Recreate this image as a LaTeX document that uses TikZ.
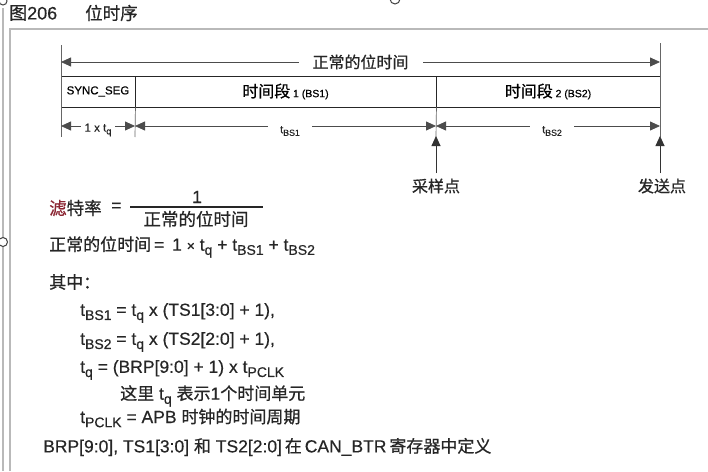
\documentclass[tikz,border=0pt]{standalone}
\usepackage{fontspec}
\setmainfont{Liberation Sans}[FakeBold=0.4]
\newfontfamily\cjk{Noto Sans CJK SC}[FakeBold=0.7]
\usetikzlibrary{arrows.meta}
\newcommand\lo[1]{\raisebox{-0.45ex}{\scalebox{0.8}{#1}}}
\newcommand\fs[1]{\fontsize{#1}{#1}\selectfont}
\begin{document}
\begin{tikzpicture}[x=1pt,y=-1pt,
  frame/.style={draw=gray!55, line width=1.3pt},
  seg/.style={draw=black!85, line width=0.9pt, minimum height=31pt, inner sep=0pt},
  ext/.style={draw=black!60, line width=0.7pt},
  dim/.style={draw=black!70, line width=0.8pt, {Triangle[length=10pt,width=9pt]}-{Triangle[length=10pt,width=9pt]}},
  uparr/.style={draw=black!80, line width=0.9pt, -{Triangle[length=10pt,width=9pt]}},
  lbl/.style={fill=white, inner ysep=1pt, text=black!85},
  txt/.style={anchor=west, inner sep=0pt, text=black!85, font=\fs{17.5}},
  handle/.style={draw=black!75, fill=white, line width=1pt}
]
\useasboundingbox (0,0) rectangle (708,471);
\fill[white] (0,0) rectangle (708,471);
% frame
\coordinate (fo1) at (3,8);
\coordinate (fo2) at (3,471);
\coordinate (fi1) at (10,29);
\coordinate (fi2) at (10,471);
\coordinate (ft) at (708,29);
\draw[frame] (fo1) -- (fo2);
\draw[frame] (fi2) -- (fi1) -- (ft);
\draw[handle] (3,1) circle (4);
\draw[handle] (395,-1) circle (5);
\draw[handle] (3,242) circle (4.5);
% title
\node[anchor=west, inner sep=0pt, text=black!85] (fig) at (9,13) {\fs{18}{\cjk 图}206};
\node[anchor=west, inner sep=0pt, text=black!85] (ttl) at (85,13) {\fs{17.5}\cjk 位时序};
% bit segments
\node[seg, minimum width=74pt] (sync) at (98,91.5) {\fs{11.5}SYNC\_SEG};
\node[seg, minimum width=301pt] (bs1) at (285.5,91.5) {{\cjk\fs{16}时间段} {\fs{10.5}1 (BS1)}\hspace{20pt}};
\node[seg, minimum width=224pt] (bs2) at (548,91.5) {{\cjk\fs{16}时间段} {\fs{10.5}2 (BS2)}\hspace{20pt}};
% extension lines
\coordinate (l0) at (61,45);
\coordinate (l1) at (61,137);
\coordinate (s1) at (135,137);
\coordinate (p1) at (436,137);
\coordinate (r0) at (660,43);
\coordinate (r1) at (660,137);
\draw[ext] (l0) -- (l1);
\draw[ext] (sync.south east) -- (s1);
\draw[ext] (bs1.south east) -- (p1);
\draw[ext] (r0) -- (r1);
% dimension arrows
\coordinate (t0) at (61,62);
\coordinate (t1) at (660,62);
\draw[dim] (t0) -- (t1) node[midway, lbl, inner xsep=14pt] (nbt) {\cjk\fs{16}正常的位时间};
\coordinate (b0) at (61,126);
\coordinate (b1) at (135,126);
\coordinate (b2) at (436,126);
\coordinate (b3) at (660,126);
\draw[dim] (b0) -- (b1);
\draw[dim] (b1) -- (b2);
\draw[dim] (b2) -- (b3);
\node[lbl, inner xsep=4pt] (ltq) at (98,130) {\fs{11.5}1 x t\lo{q}};
\node[lbl, inner xsep=12pt] (lbs1) at (290,131) {\fs{11}t\lo{BS1}};
\node[lbl, inner xsep=12pt] (lbs2) at (552,131) {\fs{11}t\lo{BS2}};
% sample / transmit points
\node[inner sep=0pt, text=black!85] (sp) at (436,186) {\cjk\fs{16}采样点};
\node[inner sep=0pt, text=black!85] (tp) at (662,186) {\cjk\fs{16}发送点};
\coordinate (sp0) at (436,173);
\coordinate (sp1) at (436,136);
\coordinate (tp0) at (660,173);
\coordinate (tp1) at (660,136);
\draw[uparr] (sp0) -- (sp1);
\draw[uparr] (tp0) -- (tp1);
% formulas
\node[txt] (baud) at (49,208) {\cjk\fs{17.5}{\color[rgb]{0.55,0.15,0.2}滤}特率};
\node[txt] (eq1) at (111,207) {=};
\node[inner sep=0pt, text=black!85] (num) at (197,197) {\fs{17.5}1};
\node[inner sep=0pt, text=black!85] (den) at (196,219) {\cjk\fs{17.5}正常的位时间};
\draw[black!85, line width=1.1pt] (130,207) -- (263,207);
\node[txt] (nbt2) at (49,247) {{\cjk\fs{17}正常的位时间}\,= \,1 {\fontsize{14}{14}\selectfont ×} t\lo{q} + t\lo{BS1} + t\lo{BS2}};
\node[txt] (qz) at (49,282) {\cjk\fs{17}其中：};
\node[txt] (f1) at (80,313) {t\lo{BS1} = t\lo{q} x (TS1[3:0] + 1),};
\node[txt] (f2) at (80,342) {t\lo{BS2} = t\lo{q} x (TS2[2:0] + 1),};
\node[txt] (f3) at (80,370) {t\lo{q} = (BRP[9:0] + 1) x t\lo{PCLK}};
\node[txt] (f4) at (120,396) {{\cjk\fs{17}这里} t\lo{q} {\cjk\fs{17}表示}1{\cjk\fs{17}个时间单元}};
\node[txt] (f5) at (80,418) {t\lo{PCLK} = APB {\cjk\fs{17}时钟的时间周期}};
\node[txt] (f6) at (43,447) {BRP[9:0], TS1[3:0] {\cjk\fs{17}和} TS2[2:0]\,{\cjk\fs{17}在}\,CAN\_BTR\,{\cjk\fs{17}寄存器中定义}};
\end{tikzpicture}
\end{document}
